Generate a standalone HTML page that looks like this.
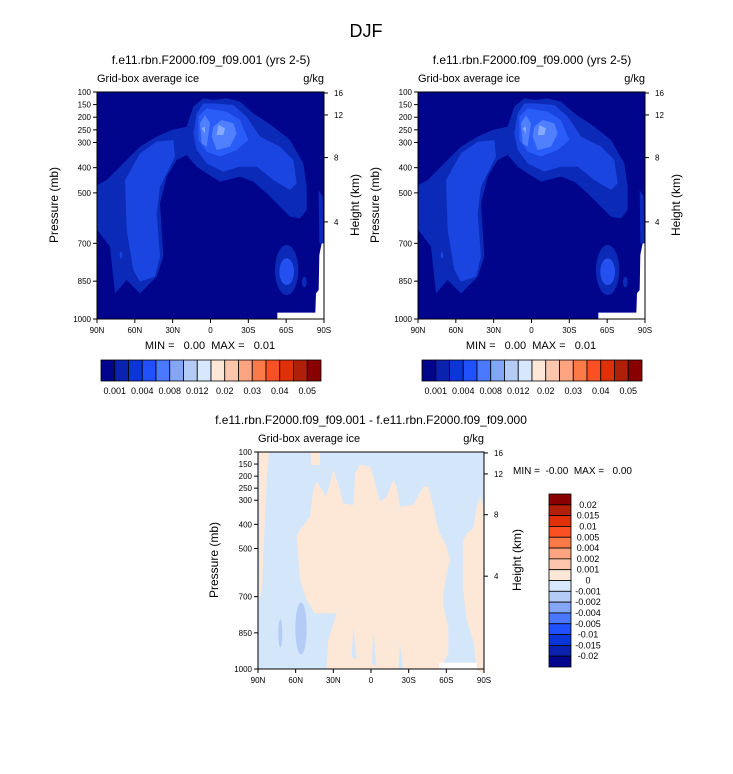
<!DOCTYPE html>
<html><head><meta charset="utf-8"><style>
body{margin:0;background:#fff;}
svg{display:block;font-family:"Liberation Sans",sans-serif;}
text{white-space:pre;}
</style></head><body>
<svg id="root" width="733" height="774" viewBox="0 0 733 774">
<text x="366" y="37" font-size="18" text-anchor="middle">DJF</text>

<g id="pL">
<text x="211" y="64" font-size="12" text-anchor="middle">f.e11.rbn.F2000.f09_f09.001 (yrs 2-5)</text>
<g transform="translate(40,70) scale(0.33333)">
<rect x="172" y="66" width="680" height="680" fill="#00058c"/>
<path fill="#0b2ab8" d="M172,345 L200,330 L240,290 L300,230 L350,200 L395,180 L440,170 L460,110 L490,85 L520,90 L560,85 L600,95 L640,130 L700,170 L750,210 L790,280 L800,350 L800,420 L780,445 L750,440 L720,410 L680,370 L640,335 L600,320 L540,335 L500,310 L470,290 L440,255 L410,270 L380,320 L360,400 L370,560 L350,620 L300,670 L260,630 L225,670 L210,530 L172,480Z"/>
<ellipse cx="740" cy="600" rx="35" ry="75" fill="#0b2ab8"/>
<ellipse cx="793" cy="636" rx="7" ry="16" fill="#0b2ab8"/>
<path fill="#0b2ab8" d="M836,360 L848,380 L850,520 L838,520Z"/>
<path fill="#1a45e0" d="M255,330 L300,250 L350,215 L400,210 L405,260 L360,350 L350,430 L360,560 L345,620 L300,635 L280,600 L260,480Z"/>
<path fill="#1a45e0" d="M470,130 L490,100 L520,100 L580,105 L620,140 L660,200 L720,230 L760,270 L770,340 L750,360 L700,330 L650,290 L600,290 L550,305 L500,280 L470,240 L460,190Z"/>
<ellipse cx="740" cy="605" rx="22" ry="40" fill="#2450f0"/>
<ellipse cx="243" cy="555" rx="4" ry="10" fill="#1a45e0"/>
<path fill="#2a5cf8" d="M475,140 L500,115 L560,125 L600,150 L625,210 L590,240 L540,260 L500,245 L475,210Z"/>
<path fill="#5080ff" d="M480,160 L495,135 L510,160 L500,230 L485,220Z M520,170 L545,150 L580,160 L590,190 L570,230 L530,240 L515,200Z"/>
<path fill="#86aaff" d="M535,165 L555,175 L550,195 L530,195Z M485,175 L495,170 L495,190Z"/>
<path fill="#fff" d="M845,520 L853,520 L853,747 L712,747 L712,728 L826,728 L828,670 L836,660 L838,555Z"/>
</g>
<rect x="97" y="92" width="227" height="227" fill="none" stroke="#000" stroke-width="1"/>
<text x="97" y="82" font-size="11">Grid-box average ice</text>
<text x="324" y="82" font-size="11" text-anchor="end">g/kg</text>
<text transform="translate(58,205) rotate(-90)" font-size="12" text-anchor="middle">Pressure (mb)</text>
<text transform="translate(359,205) rotate(-90)" font-size="12" text-anchor="middle">Height (km)</text>
<text x="210" y="349" font-size="11" text-anchor="middle">MIN =   0.00  MAX =   0.01</text>
</g>

<g>
<text x="371" y="424" font-size="12" text-anchor="middle">f.e11.rbn.F2000.f09_f09.001 - f.e11.rbn.F2000.f09_f09.000</text>
<g transform="translate(200,440) scale(0.33333)">
<rect x="175" y="35" width="678" height="653" fill="#d4e6fa"/>
<path fill="#fde8d8" d="M178,35 L207,35 L200,120 L192,300 L186,450 L178,480Z"/>
<rect x="333" y="35" width="27" height="40" fill="#fde8d8"/>
<path fill="#fde8d8" d="M290,290 L300,270 L330,230 L340,150 L350,125 L380,170 L400,90 L420,150 L430,190 L460,195 L465,100 L480,75 L510,80 L520,110 L540,185 L560,170 L580,120 L590,140 L600,200 L640,195 L670,140 L685,140 L700,200 L715,270 L740,320 L750,360 L740,400 L730,460 L730,500 L745,560 L745,640 L720,688 L380,688 L385,600 L410,520 L345,520 L320,480 L300,420 L295,360Z"/>
<path fill="#fde8d8" d="M790,300 L800,280 L820,265 L830,200 L840,170 L850,200 L850,700 L830,690 L820,600 L800,540 L790,450Z"/>
<ellipse cx="303" cy="565" rx="17" ry="78" fill="#b4cbf6"/>
<ellipse cx="241" cy="580" rx="6" ry="42" fill="#b4cbf6"/>
<path fill="#d4e6fa" d="M460,560 L470,660 L455,650Z M520,580 L530,680 L515,670Z M600,610 L610,688 L595,688Z"/>
<rect x="718" y="668" width="112" height="20" fill="#fff"/>
</g>
<rect x="258" y="452" width="226" height="217" fill="none" stroke="#000" stroke-width="1"/>
<text x="258" y="442" font-size="11">Grid-box average ice</text>
<text x="484" y="442" font-size="11" text-anchor="end">g/kg</text>
<text transform="translate(218,560) rotate(-90)" font-size="12" text-anchor="middle">Pressure (mb)</text>
<text transform="translate(521,560) rotate(-90)" font-size="12" text-anchor="middle">Height (km)</text>
<text x="513" y="474" font-size="10">MIN =  -0.00  MAX =   0.00</text>
</g>
<g id="dyn"></g>
</svg>
<script>
const NS='http://www.w3.org/2000/svg';
const pressTicks=[100,150,200,250,300,400,500,700,850,1000];
const heightTicks=[16,12,8,4];
const heightPress=[104,191,360,615];
const latTicks=['90N','60N','30N','0','30S','60S','90S'];
const topLevelLabels=['0.001','0.004','0.008','0.012','0.02','0.03','0.04','0.05'];
const diffLevelLabels=['0.02','0.015','0.01','0.005','0.004','0.002','0.001','0','-0.001','-0.002','-0.004','-0.005','-0.01','-0.015','-0.02'];
const cbColors=['#00058c','#0a22ad','#0a35d8','#2050ff','#4a78ff','#84a6f7','#b4cbf6','#d8e8fc','#fde8d8','#fdc6ad','#fca480','#fc7a48','#fa5024','#e03008','#b02008','#880000'];
const root=document.getElementById('dyn');
function mk(tag,at,parent){const e=document.createElementNS(NS,tag);for(const k in at)e.setAttribute(k,at[k]);(parent||root).appendChild(e);return e;}
const right=document.getElementById('pL').cloneNode(true);
right.setAttribute('transform','translate(321,0)');
right.removeAttribute('id');

right.querySelector('text').textContent='f.e11.rbn.F2000.f09_f09.000 (yrs 2-5)';
document.getElementById('root').insertBefore(right,document.getElementById('dyn'));
function pY(p,y0,y1){return y0+(p-100)/900*(y1-y0);}
function axes(x0,x1,y0,y1,name){
  for(const p of pressTicks){const y=pY(p,y0,y1);
    const l=mk('line',{x1:x0-4,x2:x0,y1:y,y2:y,stroke:'#000'});
    
    const t=mk('text',{x:x0-6,y:y+3,'font-size':8,'text-anchor':'end'});t.textContent=p;
    }
  heightTicks.forEach((h,i)=>{const y=pY(heightPress[i],y0,y1);
    const l=mk('line',{x1:x1,x2:x1+4,y1:y,y2:y,stroke:'#000'});
    
    const t=mk('text',{x:x1+10,y:y+3,'font-size':8});t.textContent=h;
    });
  latTicks.forEach((s,i)=>{const x=x0+(x1-x0)*i/(latTicks.length-1);
    const l=mk('line',{x1:x,x2:x,y1:y1,y2:y1+4,stroke:'#000'});
    
    const t=mk('text',{x:x,y:y1+14,'font-size':8,'text-anchor':'middle'});t.textContent=s;
    });
}
axes(97,324,92,319,'left');
axes(418,645,92,319,'right');
axes(258,484,452,669,'diff');
function hbar(x0,x1,y0,y1,name){
  const w=(x1-x0)/cbColors.length;
  cbColors.forEach((c,i)=>{const r=mk('rect',{x:x0+i*w,y:y0,width:w,height:y1-y0,fill:c,stroke:'#000','stroke-width':0.8});
    });
  topLevelLabels.forEach((s,i)=>{const t=mk('text',{x:x0+(2*i+1)*w,y:y1+13,'font-size':9,'text-anchor':'middle'});t.textContent=s;
    });
}
hbar(101,321,360,381,'left-colorbar');
hbar(422,642,360,381,'right-colorbar');
(function(){const x0=549,x1=571,y0=494,y1=667,h=(y1-y0)/cbColors.length;
  cbColors.slice().reverse().forEach((c,i)=>{const r=mk('rect',{x:x0,y:y0+i*h,width:x1-x0,height:h,fill:c,stroke:'#000','stroke-width':0.8});
    });
  diffLevelLabels.forEach((s,i)=>{const t=mk('text',{x:588,y:y0+(i+1)*h+3,'font-size':9,'text-anchor':'middle'});t.textContent=s;
    });
})();
</script>
</body></html>
